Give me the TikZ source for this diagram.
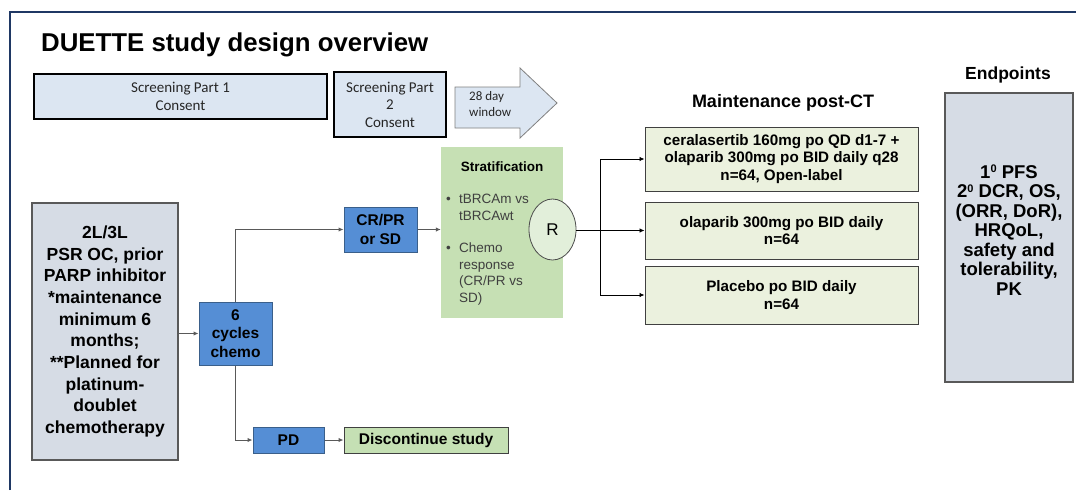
\documentclass[tikz,border=0pt]{standalone}
\usepackage{fontspec}
\setmainfont{Liberation Sans}
\newfontfamily\calfont{Carlito}
\usetikzlibrary{arrows.meta,shapes.geometric}
\definecolor{navy}{HTML}{1F3864}
\definecolor{scrfill}{HTML}{DCE6F2}
\definecolor{popfill}{HTML}{D6DCE5}
\definecolor{bluefill}{HTML}{558ED5}
\definecolor{blueline}{HTML}{3A5F8A}
\definecolor{stratfill}{HTML}{C6E0B4}
\definecolor{armfill}{HTML}{EBF1DE}
\definecolor{rfill}{HTML}{E2EFDA}
\definecolor{discfill}{HTML}{C5E0B4}
\definecolor{connc}{HTML}{595959}
\definecolor{txtgrey}{HTML}{3F3F3F}
\newcommand{\supz}{\raisebox{0.55ex}{\fontsize{11}{11}\selectfont 0}}
\begin{document}
\begin{tikzpicture}[x=1pt,y=-1pt,
  box/.style={rectangle,inner sep=0pt,align=center},
  scrbox/.style={box,draw=black,line width=1.8pt,fill=scrfill,text=black!85,font=\calfont\fontsize{15}{17.5}\selectfont},
  greybox/.style={box,draw=black!65,line width=1.2pt,fill=popfill},
  bluebox/.style={box,draw=blueline,line width=1pt,fill=bluefill,font=\bfseries\fontsize{15.5}{18.5}\selectfont},
  armbox/.style={box,draw=black!75,line width=1pt,fill=armfill,font=\bfseries\fontsize{15.2}{17.5}\selectfont},
  heading/.style={font=\bfseries\fontsize{17.5}{20}\selectfont,inner sep=0pt},
  conn/.style={draw=connc,line width=1pt,-{Latex[length=5pt,width=4.5pt]}},
  bconn/.style={draw=black,line width=0.8pt,-{Latex[length=5pt,width=4.5pt]}},
  bul/.style={font=\fontsize{13.5}{16.5}\selectfont,text=txtgrey,inner sep=0pt,anchor=north west,align=left}
]
\useasboundingbox (0,0) rectangle (1076,490);
\fill[white] (0,0) rectangle (1076,490);
% frame
\draw[navy,line width=2.5pt] (10,490) -- (10,12) -- (1076,12);

% title
\node[anchor=west,inner sep=0pt,font=\bfseries\fontsize{25.8}{30}\selectfont] (title) at (41,45) {DUETTE study design overview};

% screening
\node[scrbox,minimum width=293pt,minimum height=45pt] (scr1) at (180.5,96.5) {Screening Part 1\\Consent};
\node[scrbox,minimum width=112pt,minimum height=65pt] (scr2) at (390,104.5) {Screening Part\\2\\Consent};
\draw[draw=black!50,line width=0.8pt,fill=scrfill] (455,87) -- (520,87) -- (520,68) -- (557,103) -- (520,138) -- (520,128) -- (455,128) -- cycle;
\node[anchor=west,inner sep=0pt,align=left,text=black!85,font=\calfont\fontsize{13}{16.5}\selectfont] (win) at (469,104) {28 day\\window};

% stratification
\node[box,fill=stratfill,minimum width=122pt,minimum height=171pt] (strat) at (502,232.5) {};
\node[inner sep=0pt,font=\bfseries\fontsize{13.5}{16}\selectfont] (strath) at (502,167) {Stratification};
\node[bul] (b1) at (446,192) {\begin{tabular}{@{}p{8pt}@{\hspace{5pt}}l@{}}\textbullet & tBRCAm vs\\ & tBRCAwt\end{tabular}};
\node[bul] (b2) at (446,241) {\begin{tabular}{@{}p{8pt}@{\hspace{5pt}}l@{}}\textbullet & Chemo\\ & response\\ & (CR/PR vs\\ & SD)\end{tabular}};
\node[ellipse,draw=black!70,line width=0.8pt,fill=rfill,minimum width=47pt,minimum height=61pt,inner sep=0pt,font=\fontsize{17}{20}\selectfont] (R) at (552.5,229.5) {R};

% population
\node[greybox,minimum width=146pt,minimum height=257pt,font=\bfseries\fontsize{17.5}{21.7}\selectfont] (pop) at (105,331.5) {2L/3L\\PSR OC, prior\\PARP inhibitor\\*maintenance\\minimum 6\\months;\\**Planned for\\platinum-\\doublet\\chemotherapy};

% chemo and responses
\node[bluebox,minimum width=73pt,minimum height=63pt] (chemo) at (235.5,333.5) {6\\cycles\\chemo};
\node[bluebox,minimum width=73pt,minimum height=45pt] (crpr) at (380.5,229.5) {CR/PR\\or SD};
\node[bluebox,minimum width=71pt,minimum height=26pt] (pd) at (288.5,440) {PD};
\node[box,draw=black!75,line width=1pt,fill=discfill,minimum width=164pt,minimum height=26pt,font=\bfseries\fontsize{15.5}{18}\selectfont] (disc) at (426,440) {Discontinue study};

% maintenance arms
\node[heading,font=\bfseries\fontsize{18}{20}\selectfont] (mainth) at (783,103) {Maintenance post-CT};
\node[armbox,minimum width=273pt,minimum height=64pt] (arm1) at (781.5,159) {ceralasertib 160mg po QD d1-7 +\\olaparib 300mg po BID daily q28\\n=64, Open-label};
\node[armbox,minimum width=273pt,minimum height=57pt] (arm2) at (781.5,230.5) {olaparib 300mg po BID daily\\n=64};
\node[armbox,minimum width=273pt,minimum height=58pt] (arm3) at (781.5,295) {Placebo po BID daily\\n=64};

% endpoints
\node[heading] (eph) at (1008,75) {Endpoints};
\node[greybox,minimum width=128pt,minimum height=289pt] (ep) at (1009,237.5) {};
\node[inner sep=0pt,align=center,font=\bfseries\fontsize{18.5}{19.5}\selectfont] (eptext) at (1009,230) {1\supz\ PFS\\2\supz\ DCR, OS,\\(ORR, DoR),\\HRQoL,\\safety and\\tolerability,\\PK};

% connectors
\draw[conn] (pop.east |- chemo.west) -- (chemo.west);
\draw[conn] (chemo.north) |- (crpr.west);
\draw[conn] (chemo.south) |- (pd.west);
\draw[conn] (crpr.east) -- (strat.west |- crpr.east);
\draw[conn] (pd.east) -- (disc.west);
\coordinate (br) at (600,230.5);
\draw[bconn] (R.east |- arm2.west) -- (arm2.west);
\draw[bconn] (br) |- (arm1.west);
\draw[bconn] (br) |- (arm3.west);
\end{tikzpicture}
\end{document}
